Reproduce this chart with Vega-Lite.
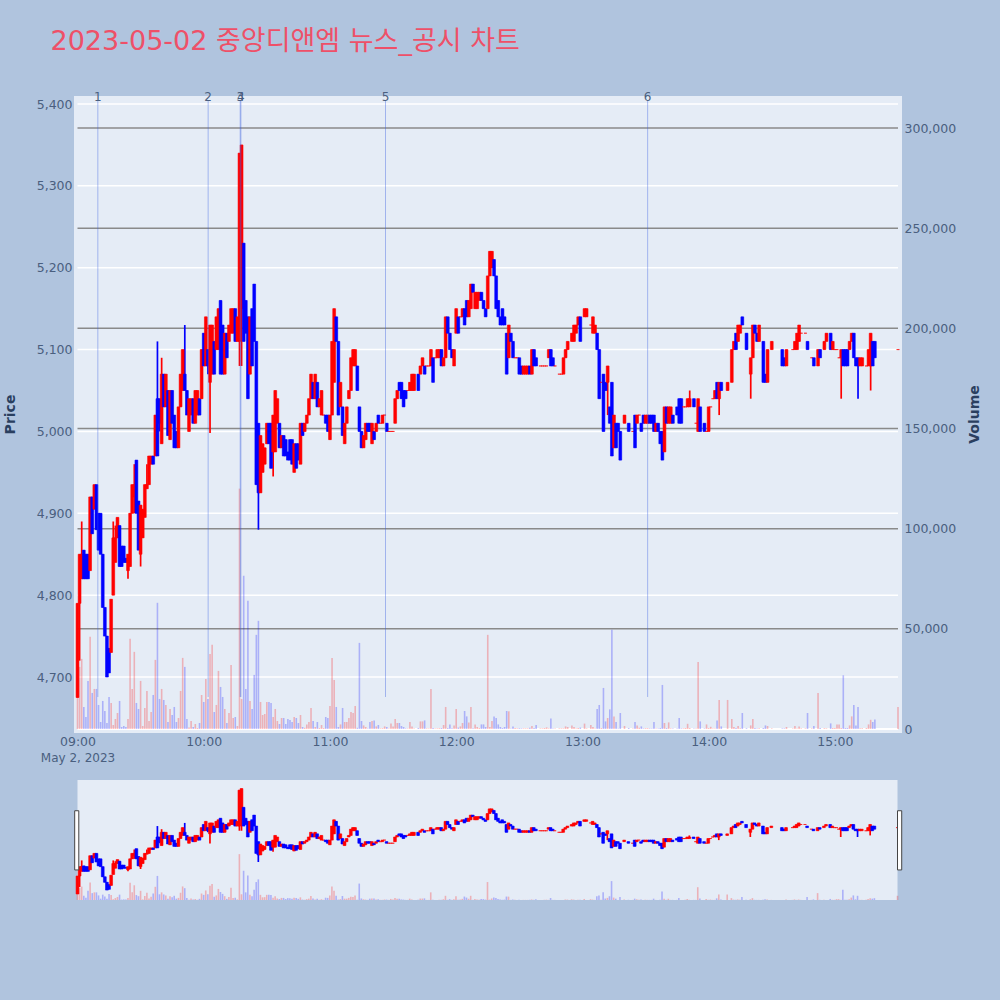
{
"$schema":"https://vega.github.io/schema/vega-lite/v6.json",
"background":"#b0c4de",
"padding":{"left":3,"right":19,"top":28,"bottom":100},
"title":{"text":"2023-05-02 중앙디앤엠 뉴스_공시 차트","anchor":"start","frame":"group","dx":-23.5,"offset":35,"fontSize":27,"fontWeight":"normal","color":"#ee5068","font":"DejaVu Sans, Noto Sans CJK KR"},
"config":{"font":"DejaVu Sans, Noto Sans CJK KR","view":{"stroke":null},"axis":{"labelColor":"#4a5f7f","titleColor":"#2a3f5f","labelFontSize":12.5,"grid":false,"domain":false,"ticks":false}},
"data":{"name":"bars","format":{"parse":{"t":"date:'%H:%M'"}}},
"datasets":{
"bars":[
{"t":"09:00","o":4675,"h":4790,"l":4675,"c":4790,"v":26000},
{"t":"09:01","o":4790,"h":4850,"l":4720,"c":4850,"v":31000},
{"t":"09:02","o":4820,"h":4890,"l":4820,"c":4850,"v":35000},
{"t":"09:03","o":4855,"h":4855,"l":4820,"c":4820,"v":11000},
{"t":"09:04","o":4850,"h":4850,"l":4820,"c":4820,"v":6000},
{"t":"09:05","o":4850,"h":4850,"l":4820,"c":4820,"v":24000},
{"t":"09:06","o":4830,"h":4920,"l":4830,"c":4920,"v":46000},
{"t":"09:07","o":4920,"h":4920,"l":4875,"c":4875,"v":18000},
{"t":"09:08","o":4905,"h":4935,"l":4905,"c":4935,"v":20000},
{"t":"09:09","o":4935,"h":4935,"l":4880,"c":4880,"v":20000},
{"t":"09:10","o":4900,"h":4900,"l":4855,"c":4855,"v":12000},
{"t":"09:11","o":4900,"h":4900,"l":4850,"c":4850,"v":3500},
{"t":"09:12","o":4850,"h":4850,"l":4785,"c":4785,"v":14000},
{"t":"09:13","o":4785,"h":4785,"l":4750,"c":4750,"v":9000},
{"t":"09:14","o":4750,"h":4750,"l":4700,"c":4700,"v":3000},
{"t":"09:15","o":4735,"h":4735,"l":4705,"c":4705,"v":16000},
{"t":"09:16","o":4730,"h":4795,"l":4730,"c":4795,"v":13000},
{"t":"09:17","o":4800,"h":4890,"l":4800,"c":4870,"v":2000},
{"t":"09:18","o":4840,"h":4885,"l":4840,"c":4870,"v":5000},
{"t":"09:19","o":4870,"h":4895,"l":4870,"c":4895,"v":8000},
{"t":"09:20","o":4885,"h":4885,"l":4835,"c":4835,"v":14000},
{"t":"09:21","o":4860,"h":4860,"l":4835,"c":4835,"v":1000},
{"t":"09:22","o":4860,"h":4860,"l":4840,"c":4840,"v":1500},
{"t":"09:23","o":4845,"h":4845,"l":4840,"c":4840,"v":1000},
{"t":"09:24","o":4830,"h":4850,"l":4820,"c":4850,"v":5000},
{"t":"09:25","o":4835,"h":4900,"l":4835,"c":4900,"v":45000},
{"t":"09:26","o":4900,"h":4935,"l":4900,"c":4935,"v":20000},
{"t":"09:27","o":4920,"h":4960,"l":4900,"c":4935,"v":38500},
{"t":"09:28","o":4965,"h":4965,"l":4900,"c":4900,"v":13000},
{"t":"09:29","o":4915,"h":4915,"l":4855,"c":4855,"v":10000},
{"t":"09:30","o":4850,"h":4910,"l":4835,"c":4910,"v":24000},
{"t":"09:31","o":4870,"h":4905,"l":4870,"c":4905,"v":1500},
{"t":"09:32","o":4895,"h":4935,"l":4895,"c":4935,"v":10500},
{"t":"09:33","o":4930,"h":4960,"l":4930,"c":4935,"v":19000},
{"t":"09:34","o":4935,"h":4970,"l":4935,"c":4970,"v":4000},
{"t":"09:35","o":4960,"h":4970,"l":4960,"c":4970,"v":8500},
{"t":"09:36","o":4970,"h":4970,"l":4960,"c":4960,"v":17000},
{"t":"09:37","o":4970,"h":5020,"l":4970,"c":5020,"v":34500},
{"t":"09:38","o":5040,"h":5110,"l":4970,"c":4970,"v":63000},
{"t":"09:39","o":5040,"h":5040,"l":5000,"c":5010,"v":15000},
{"t":"09:40","o":4985,"h":5090,"l":4985,"c":5070,"v":20000},
{"t":"09:41","o":5070,"h":5070,"l":5030,"c":5030,"v":14500},
{"t":"09:42","o":5030,"h":5070,"l":5030,"c":5070,"v":12000},
{"t":"09:43","o":5050,"h":5050,"l":4995,"c":4995,"v":3500},
{"t":"09:44","o":4990,"h":5050,"l":4990,"c":5050,"v":10000},
{"t":"09:45","o":5050,"h":5050,"l":5010,"c":5010,"v":7000},
{"t":"09:46","o":5020,"h":5020,"l":4980,"c":4980,"v":11000},
{"t":"09:47","o":5000,"h":5000,"l":4980,"c":4980,"v":3500},
{"t":"09:48","o":4980,"h":5030,"l":4980,"c":5030,"v":5500},
{"t":"09:49","o":5030,"h":5070,"l":5030,"c":5070,"v":19000},
{"t":"09:50","o":5050,"h":5100,"l":5050,"c":5100,"v":35500},
{"t":"09:51","o":5070,"h":5130,"l":5050,"c":5050,"v":31000},
{"t":"09:52","o":5050,"h":5050,"l":5020,"c":5020,"v":5000},
{"t":"09:53","o":5000,"h":5040,"l":5000,"c":5040,"v":700},
{"t":"09:54","o":5020,"h":5040,"l":5020,"c":5040,"v":4000},
{"t":"09:55","o":5040,"h":5040,"l":5010,"c":5010,"v":1000},
{"t":"09:56","o":5010,"h":5050,"l":5010,"c":5050,"v":2500},
{"t":"09:57","o":5020,"h":5050,"l":5020,"c":5050,"v":500},
{"t":"09:58","o":5040,"h":5040,"l":5020,"c":5020,"v":3000},
{"t":"09:59","o":5040,"h":5100,"l":5040,"c":5100,"v":17000},
{"t":"10:00","o":5120,"h":5120,"l":5080,"c":5080,"v":13500},
{"t":"10:01","o":5080,"h":5140,"l":5080,"c":5140,"v":25000},
{"t":"10:02","o":5100,"h":5100,"l":5070,"c":5080,"v":15000},
{"t":"10:03","o":5060,"h":5130,"l":4998,"c":5130,"v":37500},
{"t":"10:04","o":5070,"h":5130,"l":5070,"c":5130,"v":42000},
{"t":"10:05","o":5110,"h":5110,"l":5070,"c":5070,"v":8500},
{"t":"10:06","o":5100,"h":5140,"l":5100,"c":5140,"v":12000},
{"t":"10:07","o":5100,"h":5150,"l":5100,"c":5150,"v":29000},
{"t":"10:08","o":5160,"h":5160,"l":5070,"c":5070,"v":21000},
{"t":"10:09","o":5130,"h":5130,"l":5070,"c":5070,"v":16000},
{"t":"10:10","o":5070,"h":5120,"l":5070,"c":5120,"v":10000},
{"t":"10:11","o":5120,"h":5120,"l":5090,"c":5090,"v":3000},
{"t":"10:12","o":5110,"h":5130,"l":5110,"c":5130,"v":8000},
{"t":"10:13","o":5120,"h":5150,"l":5120,"c":5150,"v":32000},
{"t":"10:14","o":5120,"h":5150,"l":5120,"c":5150,"v":5500},
{"t":"10:15","o":5150,"h":5150,"l":5110,"c":5110,"v":6000},
{"t":"10:16","o":5110,"h":5140,"l":5110,"c":5140,"v":1500},
{"t":"10:17","o":5110,"h":5340,"l":5080,"c":5340,"v":120000},
{"t":"10:18","o":5150,"h":5350,"l":5080,"c":5350,"v":15000},
{"t":"10:19","o":5230,"h":5230,"l":5110,"c":5110,"v":76500},
{"t":"10:20","o":5160,"h":5160,"l":5120,"c":5120,"v":20000},
{"t":"10:21","o":5140,"h":5140,"l":5040,"c":5040,"v":64000},
{"t":"10:22","o":5070,"h":5140,"l":5070,"c":5140,"v":14000},
{"t":"10:23","o":5150,"h":5150,"l":5080,"c":5080,"v":10000},
{"t":"10:24","o":5180,"h":5180,"l":5110,"c":5110,"v":27000},
{"t":"10:25","o":5110,"h":5110,"l":4935,"c":4935,"v":47000},
{"t":"10:26","o":5010,"h":5010,"l":4880,"c":4925,"v":54000},
{"t":"10:27","o":4925,"h":4995,"l":4925,"c":4995,"v":13500},
{"t":"10:28","o":4950,"h":4985,"l":4950,"c":4985,"v":7000},
{"t":"10:29","o":4960,"h":4980,"l":4960,"c":4980,"v":7500},
{"t":"10:30","o":4985,"h":5010,"l":4985,"c":5010,"v":13500},
{"t":"10:31","o":5010,"h":5010,"l":4985,"c":4985,"v":13500},
{"t":"10:32","o":5010,"h":5010,"l":4955,"c":4955,"v":13000},
{"t":"10:33","o":4975,"h":5020,"l":4945,"c":5020,"v":6000},
{"t":"10:34","o":4975,"h":5050,"l":4975,"c":5050,"v":10000},
{"t":"10:35","o":5010,"h":5040,"l":5010,"c":5040,"v":4000},
{"t":"10:36","o":5010,"h":5010,"l":4980,"c":4980,"v":2500},
{"t":"10:37","o":4980,"h":4995,"l":4980,"c":4995,"v":5500},
{"t":"10:38","o":4995,"h":4995,"l":4970,"c":4970,"v":5500},
{"t":"10:39","o":4990,"h":4990,"l":4970,"c":4970,"v":2500},
{"t":"10:40","o":4975,"h":4975,"l":4965,"c":4965,"v":5000},
{"t":"10:41","o":4990,"h":4990,"l":4965,"c":4965,"v":4500},
{"t":"10:42","o":4990,"h":4990,"l":4960,"c":4960,"v":3500},
{"t":"10:43","o":4950,"h":4985,"l":4950,"c":4985,"v":6000},
{"t":"10:44","o":4985,"h":4985,"l":4955,"c":4955,"v":5500},
{"t":"10:45","o":4985,"h":4985,"l":4965,"c":4965,"v":3000},
{"t":"10:46","o":4960,"h":5010,"l":4960,"c":5010,"v":7000},
{"t":"10:47","o":5010,"h":5010,"l":4995,"c":4995,"v":1000},
{"t":"10:48","o":5000,"h":5010,"l":5000,"c":5010,"v":600},
{"t":"10:49","o":5010,"h":5020,"l":5010,"c":5020,"v":2300},
{"t":"10:50","o":5020,"h":5040,"l":5020,"c":5040,"v":3500},
{"t":"10:51","o":5040,"h":5070,"l":5040,"c":5070,"v":10500},
{"t":"10:52","o":5060,"h":5060,"l":5040,"c":5040,"v":4000},
{"t":"10:53","o":5040,"h":5070,"l":5040,"c":5070,"v":1000},
{"t":"10:54","o":5060,"h":5060,"l":5030,"c":5030,"v":3500},
{"t":"10:55","o":5030,"h":5040,"l":5030,"c":5040,"v":500},
{"t":"10:56","o":5020,"h":5050,"l":5020,"c":5050,"v":2000},
{"t":"10:57","o":5020,"h":5020,"l":5020,"c":5020,"v":500},
{"t":"10:58","o":5020,"h":5020,"l":5010,"c":5010,"v":6000},
{"t":"10:59","o":5020,"h":5020,"l":5000,"c":5000,"v":5500},
{"t":"11:00","o":4990,"h":5020,"l":4990,"c":5020,"v":11500},
{"t":"11:01","o":5020,"h":5110,"l":5020,"c":5110,"v":35500},
{"t":"11:02","o":5060,"h":5150,"l":5060,"c":5150,"v":24500},
{"t":"11:03","o":5140,"h":5140,"l":5110,"c":5110,"v":11000},
{"t":"11:04","o":5110,"h":5110,"l":5020,"c":5020,"v":1000},
{"t":"11:05","o":5030,"h":5060,"l":5030,"c":5060,"v":2300},
{"t":"11:06","o":5030,"h":5030,"l":4995,"c":4995,"v":10500},
{"t":"11:07","o":4985,"h":5010,"l":4985,"c":5010,"v":3500},
{"t":"11:08","o":5010,"h":5030,"l":5010,"c":5030,"v":3500},
{"t":"11:09","o":5040,"h":5050,"l":5040,"c":5050,"v":5500},
{"t":"11:10","o":5050,"h":5090,"l":5050,"c":5090,"v":8500},
{"t":"11:11","o":5080,"h":5100,"l":5080,"c":5100,"v":8000},
{"t":"11:12","o":5080,"h":5100,"l":5080,"c":5100,"v":11500},
{"t":"11:13","o":5080,"h":5080,"l":5050,"c":5050,"v":600},
{"t":"11:14","o":5030,"h":5030,"l":5000,"c":5000,"v":43000},
{"t":"11:15","o":5000,"h":5000,"l":4980,"c":4980,"v":4000},
{"t":"11:16","o":4980,"h":4995,"l":4980,"c":4995,"v":1800},
{"t":"11:17","o":4990,"h":5010,"l":4990,"c":5010,"v":1000},
{"t":"11:18","o":5010,"h":5010,"l":5000,"c":5000,"v":300},
{"t":"11:19","o":5010,"h":5010,"l":5000,"c":5000,"v":3500},
{"t":"11:20","o":4985,"h":5010,"l":4985,"c":5010,"v":4000},
{"t":"11:21","o":5000,"h":5000,"l":4990,"c":4990,"v":4200},
{"t":"11:22","o":5000,"h":5010,"l":5000,"c":5010,"v":1300},
{"t":"11:23","o":5020,"h":5020,"l":5010,"c":5010,"v":2000},
{"t":"11:24","o":5010,"h":5010,"l":5010,"c":5010,"v":300},
{"t":"11:25","o":5010,"h":5020,"l":5010,"c":5020,"v":400},
{"t":"11:26","o":5020,"h":5020,"l":5020,"c":5020,"v":1300},
{"t":"11:27","o":5010,"h":5010,"l":5000,"c":5000,"v":1000},
{"t":"11:28","o":5000,"h":5000,"l":5000,"c":5000,"v":300},
{"t":"11:29","o":5000,"h":5000,"l":5000,"c":5000,"v":2800},
{"t":"11:30","o":5000,"h":5000,"l":5000,"c":5000,"v":1300},
{"t":"11:31","o":5010,"h":5040,"l":5010,"c":5040,"v":5000},
{"t":"11:32","o":5040,"h":5050,"l":5040,"c":5050,"v":3000},
{"t":"11:33","o":5060,"h":5060,"l":5050,"c":5050,"v":3000},
{"t":"11:34","o":5060,"h":5060,"l":5040,"c":5040,"v":1500},
{"t":"11:35","o":5050,"h":5050,"l":5030,"c":5030,"v":1000},
{"t":"11:36","o":5050,"h":5050,"l":5040,"c":5040,"v":300},
{"t":"11:37","o":5050,"h":5050,"l":5050,"c":5050,"v":300},
{"t":"11:38","o":5050,"h":5060,"l":5050,"c":5060,"v":3500},
{"t":"11:39","o":5050,"h":5070,"l":5050,"c":5070,"v":1300},
{"t":"11:40","o":5050,"h":5070,"l":5050,"c":5070,"v":300},
{"t":"11:42","o":5070,"h":5070,"l":5050,"c":5050,"v":500},
{"t":"11:43","o":5070,"h":5080,"l":5070,"c":5080,"v":3800},
{"t":"11:44","o":5080,"h":5090,"l":5080,"c":5090,"v":3800},
{"t":"11:45","o":5080,"h":5080,"l":5070,"c":5070,"v":4300},
{"t":"11:46","o":5080,"h":5080,"l":5080,"c":5080,"v":300},
{"t":"11:47","o":5080,"h":5080,"l":5080,"c":5080,"v":300},
{"t":"11:48","o":5080,"h":5100,"l":5080,"c":5100,"v":20000},
{"t":"11:49","o":5090,"h":5090,"l":5060,"c":5060,"v":500},
{"t":"11:50","o":5090,"h":5090,"l":5090,"c":5090,"v":300},
{"t":"11:51","o":5090,"h":5100,"l":5090,"c":5100,"v":300},
{"t":"11:52","o":5090,"h":5100,"l":5090,"c":5100,"v":400},
{"t":"11:53","o":5100,"h":5100,"l":5080,"c":5080,"v":500},
{"t":"11:54","o":5080,"h":5090,"l":5080,"c":5090,"v":2000},
{"t":"11:55","o":5090,"h":5140,"l":5090,"c":5140,"v":11000},
{"t":"11:56","o":5140,"h":5140,"l":5120,"c":5120,"v":500},
{"t":"11:57","o":5120,"h":5120,"l":5100,"c":5100,"v":2300},
{"t":"11:58","o":5100,"h":5100,"l":5090,"c":5090,"v":400},
{"t":"11:59","o":5080,"h":5100,"l":5080,"c":5100,"v":1800},
{"t":"12:00","o":5120,"h":5150,"l":5120,"c":5150,"v":10000},
{"t":"12:01","o":5140,"h":5140,"l":5120,"c":5120,"v":700},
{"t":"12:02","o":5140,"h":5140,"l":5140,"c":5140,"v":1300},
{"t":"12:03","o":5140,"h":5150,"l":5140,"c":5150,"v":3000},
{"t":"12:04","o":5150,"h":5150,"l":5130,"c":5130,"v":9000},
{"t":"12:05","o":5160,"h":5160,"l":5140,"c":5140,"v":6300},
{"t":"12:06","o":5140,"h":5160,"l":5140,"c":5160,"v":3300},
{"t":"12:07","o":5150,"h":5180,"l":5150,"c":5180,"v":11000},
{"t":"12:08","o":5180,"h":5180,"l":5170,"c":5170,"v":400},
{"t":"12:09","o":5150,"h":5170,"l":5150,"c":5170,"v":2300},
{"t":"12:10","o":5150,"h":5170,"l":5150,"c":5170,"v":1000},
{"t":"12:11","o":5160,"h":5170,"l":5160,"c":5170,"v":500},
{"t":"12:12","o":5170,"h":5170,"l":5160,"c":5160,"v":2300},
{"t":"12:13","o":5160,"h":5160,"l":5150,"c":5150,"v":2300},
{"t":"12:14","o":5150,"h":5150,"l":5140,"c":5140,"v":1000},
{"t":"12:15","o":5150,"h":5190,"l":5150,"c":5190,"v":47000},
{"t":"12:16","o":5190,"h":5220,"l":5190,"c":5220,"v":1000},
{"t":"12:17","o":5200,"h":5220,"l":5200,"c":5220,"v":4000},
{"t":"12:18","o":5210,"h":5210,"l":5190,"c":5190,"v":6300},
{"t":"12:19","o":5190,"h":5190,"l":5150,"c":5150,"v":5500},
{"t":"12:20","o":5160,"h":5160,"l":5140,"c":5140,"v":2300},
{"t":"12:21","o":5140,"h":5140,"l":5130,"c":5130,"v":1000},
{"t":"12:22","o":5150,"h":5150,"l":5130,"c":5130,"v":500},
{"t":"12:23","o":5140,"h":5140,"l":5130,"c":5130,"v":1000},
{"t":"12:24","o":5120,"h":5120,"l":5070,"c":5070,"v":9000},
{"t":"12:25","o":5090,"h":5130,"l":5090,"c":5130,"v":8800},
{"t":"12:26","o":5120,"h":5120,"l":5110,"c":5110,"v":300},
{"t":"12:27","o":5110,"h":5110,"l":5090,"c":5090,"v":1300},
{"t":"12:28","o":5090,"h":5090,"l":5090,"c":5090,"v":500},
{"t":"12:29","o":5090,"h":5090,"l":5090,"c":5090,"v":300},
{"t":"12:30","o":5090,"h":5090,"l":5070,"c":5070,"v":400},
{"t":"12:31","o":5080,"h":5080,"l":5070,"c":5070,"v":300},
{"t":"12:32","o":5070,"h":5080,"l":5070,"c":5080,"v":300},
{"t":"12:33","o":5070,"h":5080,"l":5070,"c":5080,"v":300},
{"t":"12:34","o":5070,"h":5080,"l":5070,"c":5080,"v":300},
{"t":"12:35","o":5080,"h":5080,"l":5070,"c":5070,"v":600},
{"t":"12:36","o":5070,"h":5100,"l":5070,"c":5100,"v":1500},
{"t":"12:37","o":5100,"h":5100,"l":5080,"c":5080,"v":500},
{"t":"12:38","o":5090,"h":5090,"l":5080,"c":5080,"v":2000},
{"t":"12:40","o":5080,"h":5080,"l":5080,"c":5080,"v":300},
{"t":"12:41","o":5080,"h":5080,"l":5080,"c":5080,"v":300},
{"t":"12:42","o":5080,"h":5080,"l":5080,"c":5080,"v":500},
{"t":"12:43","o":5080,"h":5080,"l":5080,"c":5080,"v":800},
{"t":"12:44","o":5090,"h":5100,"l":5090,"c":5100,"v":300},
{"t":"12:45","o":5100,"h":5100,"l":5080,"c":5080,"v":5300},
{"t":"12:46","o":5090,"h":5090,"l":5080,"c":5080,"v":300},
{"t":"12:47","o":5080,"h":5080,"l":5080,"c":5080,"v":300},
{"t":"12:49","o":5070,"h":5070,"l":5070,"c":5070,"v":300},
{"t":"12:50","o":5070,"h":5070,"l":5070,"c":5070,"v":300},
{"t":"12:51","o":5070,"h":5090,"l":5070,"c":5090,"v":300},
{"t":"12:52","o":5090,"h":5100,"l":5090,"c":5100,"v":1300},
{"t":"12:53","o":5100,"h":5110,"l":5100,"c":5110,"v":1000},
{"t":"12:55","o":5110,"h":5120,"l":5110,"c":5120,"v":1800},
{"t":"12:56","o":5110,"h":5130,"l":5110,"c":5130,"v":1000},
{"t":"12:57","o":5120,"h":5130,"l":5120,"c":5130,"v":300},
{"t":"12:58","o":5130,"h":5140,"l":5130,"c":5140,"v":500},
{"t":"12:59","o":5140,"h":5140,"l":5110,"c":5110,"v":700},
{"t":"13:01","o":5140,"h":5150,"l":5140,"c":5150,"v":2700},
{"t":"13:02","o":5140,"h":5150,"l":5140,"c":5150,"v":300},
{"t":"13:04","o":5130,"h":5130,"l":5130,"c":5130,"v":2000},
{"t":"13:05","o":5120,"h":5140,"l":5120,"c":5140,"v":1000},
{"t":"13:06","o":5120,"h":5130,"l":5120,"c":5130,"v":300},
{"t":"13:07","o":5120,"h":5120,"l":5100,"c":5100,"v":10000},
{"t":"13:08","o":5100,"h":5100,"l":5040,"c":5040,"v":12000},
{"t":"13:09","o":5060,"h":5060,"l":5060,"c":5060,"v":500},
{"t":"13:10","o":5070,"h":5070,"l":5000,"c":5000,"v":20500},
{"t":"13:11","o":5060,"h":5060,"l":5050,"c":5050,"v":3800},
{"t":"13:12","o":5060,"h":5080,"l":5020,"c":5080,"v":5500},
{"t":"13:13","o":5030,"h":5030,"l":5010,"c":5010,"v":9800},
{"t":"13:14","o":5060,"h":5060,"l":4970,"c":4970,"v":49500},
{"t":"13:15","o":4980,"h":5020,"l":4980,"c":5020,"v":6300},
{"t":"13:16","o":5010,"h":5010,"l":4980,"c":4980,"v":3500},
{"t":"13:17","o":5010,"h":5010,"l":5000,"c":5000,"v":300},
{"t":"13:18","o":5000,"h":5000,"l":4965,"c":4965,"v":8000},
{"t":"13:20","o":5010,"h":5020,"l":5010,"c":5020,"v":1500},
{"t":"13:22","o":5010,"h":5010,"l":5000,"c":5000,"v":500},
{"t":"13:24","o":5000,"h":5000,"l":5000,"c":5000,"v":300},
{"t":"13:25","o":5020,"h":5020,"l":4980,"c":4980,"v":3500},
{"t":"13:26","o":5010,"h":5020,"l":5010,"c":5020,"v":1800},
{"t":"13:27","o":5020,"h":5020,"l":5020,"c":5020,"v":600},
{"t":"13:28","o":5010,"h":5010,"l":5000,"c":5000,"v":1300},
{"t":"13:29","o":5020,"h":5020,"l":5010,"c":5010,"v":300},
{"t":"13:30","o":5010,"h":5020,"l":5010,"c":5020,"v":400},
{"t":"13:31","o":5010,"h":5020,"l":5010,"c":5020,"v":400},
{"t":"13:32","o":5020,"h":5020,"l":5010,"c":5010,"v":300},
{"t":"13:33","o":5020,"h":5020,"l":5010,"c":5010,"v":300},
{"t":"13:34","o":5020,"h":5020,"l":5000,"c":5000,"v":3500},
{"t":"13:35","o":5000,"h":5010,"l":5000,"c":5010,"v":300},
{"t":"13:36","o":5010,"h":5010,"l":5000,"c":5000,"v":300},
{"t":"13:37","o":5000,"h":5000,"l":4985,"c":4985,"v":500},
{"t":"13:38","o":5000,"h":5000,"l":4965,"c":4965,"v":22000},
{"t":"13:39","o":4975,"h":5030,"l":4975,"c":5030,"v":3000},
{"t":"13:40","o":5030,"h":5030,"l":5010,"c":5010,"v":500},
{"t":"13:41","o":5010,"h":5030,"l":5010,"c":5030,"v":3300},
{"t":"13:42","o":5010,"h":5030,"l":5010,"c":5030,"v":300},
{"t":"13:43","o":5020,"h":5020,"l":5010,"c":5010,"v":300},
{"t":"13:45","o":5030,"h":5030,"l":5020,"c":5020,"v":300},
{"t":"13:46","o":5040,"h":5040,"l":5010,"c":5010,"v":5500},
{"t":"13:47","o":5040,"h":5040,"l":5010,"c":5010,"v":300},
{"t":"13:48","o":5030,"h":5030,"l":5030,"c":5030,"v":300},
{"t":"13:49","o":5030,"h":5030,"l":5030,"c":5030,"v":500},
{"t":"13:50","o":5030,"h":5040,"l":5030,"c":5040,"v":2600},
{"t":"13:51","o":5030,"h":5050,"l":5030,"c":5040,"v":500},
{"t":"13:53","o":5040,"h":5040,"l":5030,"c":5030,"v":300},
{"t":"13:54","o":5010,"h":5010,"l":5010,"c":5010,"v":300},
{"t":"13:55","o":5000,"h":5040,"l":5000,"c":5040,"v":33500},
{"t":"13:56","o":5030,"h":5030,"l":5000,"c":5000,"v":3800},
{"t":"13:58","o":5010,"h":5010,"l":5000,"c":5000,"v":300},
{"t":"13:59","o":5000,"h":5000,"l":5000,"c":5000,"v":2300},
{"t":"14:00","o":5000,"h":5030,"l":5000,"c":5030,"v":500},
{"t":"14:01","o":5030,"h":5030,"l":5030,"c":5030,"v":1100},
{"t":"14:02","o":5040,"h":5040,"l":5040,"c":5040,"v":300},
{"t":"14:03","o":5040,"h":5050,"l":5040,"c":5050,"v":300},
{"t":"14:04","o":5060,"h":5060,"l":5040,"c":5040,"v":4300},
{"t":"14:05","o":5040,"h":5060,"l":5020,"c":5060,"v":14500},
{"t":"14:06","o":5060,"h":5060,"l":5050,"c":5050,"v":1300},
{"t":"14:09","o":5050,"h":5060,"l":5050,"c":5060,"v":14500},
{"t":"14:11","o":5060,"h":5100,"l":5060,"c":5100,"v":5000},
{"t":"14:12","o":5100,"h":5110,"l":5100,"c":5110,"v":1000},
{"t":"14:13","o":5120,"h":5120,"l":5100,"c":5100,"v":500},
{"t":"14:14","o":5110,"h":5130,"l":5110,"c":5130,"v":1500},
{"t":"14:15","o":5120,"h":5130,"l":5120,"c":5130,"v":400},
{"t":"14:16","o":5140,"h":5140,"l":5130,"c":5130,"v":8000},
{"t":"14:18","o":5120,"h":5120,"l":5100,"c":5100,"v":400},
{"t":"14:20","o":5070,"h":5090,"l":5040,"c":5090,"v":1800},
{"t":"14:21","o":5090,"h":5130,"l":5090,"c":5130,"v":5000},
{"t":"14:22","o":5130,"h":5130,"l":5120,"c":5120,"v":500},
{"t":"14:23","o":5120,"h":5120,"l":5110,"c":5110,"v":300},
{"t":"14:24","o":5110,"h":5130,"l":5110,"c":5130,"v":400},
{"t":"14:26","o":5110,"h":5110,"l":5060,"c":5060,"v":500},
{"t":"14:27","o":5070,"h":5070,"l":5060,"c":5060,"v":1800},
{"t":"14:28","o":5060,"h":5100,"l":5060,"c":5100,"v":1500},
{"t":"14:30","o":5100,"h":5110,"l":5100,"c":5110,"v":300},
{"t":"14:35","o":5100,"h":5100,"l":5080,"c":5080,"v":300},
{"t":"14:36","o":5090,"h":5090,"l":5080,"c":5080,"v":300},
{"t":"14:37","o":5080,"h":5100,"l":5080,"c":5100,"v":1000},
{"t":"14:40","o":5100,"h":5100,"l":5100,"c":5100,"v":300},
{"t":"14:41","o":5100,"h":5110,"l":5100,"c":5110,"v":1500},
{"t":"14:42","o":5100,"h":5120,"l":5100,"c":5120,"v":300},
{"t":"14:43","o":5110,"h":5130,"l":5110,"c":5130,"v":1300},
{"t":"14:44","o":5120,"h":5120,"l":5120,"c":5120,"v":300},
{"t":"14:46","o":5120,"h":5120,"l":5120,"c":5120,"v":300},
{"t":"14:47","o":5110,"h":5110,"l":5100,"c":5100,"v":8000},
{"t":"14:49","o":5090,"h":5090,"l":5090,"c":5090,"v":300},
{"t":"14:50","o":5090,"h":5090,"l":5080,"c":5080,"v":1500},
{"t":"14:52","o":5080,"h":5100,"l":5080,"c":5100,"v":18000},
{"t":"14:53","o":5100,"h":5100,"l":5090,"c":5090,"v":500},
{"t":"14:55","o":5100,"h":5110,"l":5100,"c":5110,"v":400},
{"t":"14:56","o":5110,"h":5120,"l":5110,"c":5120,"v":300},
{"t":"14:58","o":5120,"h":5120,"l":5100,"c":5100,"v":2800},
{"t":"14:59","o":5100,"h":5110,"l":5100,"c":5110,"v":500},
{"t":"15:00","o":5100,"h":5100,"l":5100,"c":5100,"v":500},
{"t":"15:01","o":5100,"h":5100,"l":5100,"c":5100,"v":2300},
{"t":"15:02","o":5090,"h":5090,"l":5090,"c":5090,"v":2300},
{"t":"15:03","o":5090,"h":5100,"l":5040,"c":5100,"v":500},
{"t":"15:04","o":5100,"h":5100,"l":5080,"c":5080,"v":26800},
{"t":"15:05","o":5100,"h":5100,"l":5080,"c":5080,"v":500},
{"t":"15:06","o":5100,"h":5100,"l":5080,"c":5080,"v":500},
{"t":"15:07","o":5100,"h":5110,"l":5100,"c":5110,"v":1800},
{"t":"15:08","o":5110,"h":5120,"l":5110,"c":5120,"v":6300},
{"t":"15:09","o":5120,"h":5120,"l":5090,"c":5090,"v":12000},
{"t":"15:10","o":5090,"h":5090,"l":5080,"c":5080,"v":1700},
{"t":"15:11","o":5090,"h":5090,"l":5040,"c":5080,"v":11000},
{"t":"15:12","o":5080,"h":5090,"l":5080,"c":5090,"v":400},
{"t":"15:13","o":5080,"h":5090,"l":5080,"c":5090,"v":400},
{"t":"15:15","o":5080,"h":5080,"l":5080,"c":5080,"v":500},
{"t":"15:16","o":5080,"h":5100,"l":5080,"c":5100,"v":2300},
{"t":"15:17","o":5080,"h":5120,"l":5050,"c":5120,"v":4600},
{"t":"15:18","o":5110,"h":5110,"l":5080,"c":5080,"v":3500},
{"t":"15:19","o":5110,"h":5110,"l":5090,"c":5090,"v":4800},
{"t":"15:30","o":5100,"h":5100,"l":5100,"c":5100,"v":11000}
],
"prices":[{"p":4700,"a":"09:00","b":"15:30"},{"p":4800,"a":"09:00","b":"15:30"},{"p":4900,"a":"09:00","b":"15:30"},{"p":5000,"a":"09:00","b":"15:30"},{"p":5100,"a":"09:00","b":"15:30"},{"p":5200,"a":"09:00","b":"15:30"},{"p":5300,"a":"09:00","b":"15:30"},{"p":5400,"a":"09:00","b":"15:30"}],
"volumes":[{"q":0,"a":"1900-01-01T09:00:00","b":"1900-01-01T15:30:00"},{"q":50000,"a":"1900-01-01T09:00:00","b":"1900-01-01T15:30:00"},{"q":100000,"a":"1900-01-01T09:00:00","b":"1900-01-01T15:30:00"},{"q":150000,"a":"1900-01-01T09:00:00","b":"1900-01-01T15:30:00"},{"q":200000,"a":"1900-01-01T09:00:00","b":"1900-01-01T15:30:00"},{"q":250000,"a":"1900-01-01T09:00:00","b":"1900-01-01T15:30:00"},{"q":300000,"a":"1900-01-01T09:00:00","b":"1900-01-01T15:30:00"}],
"news":[{"t":"1900-01-01T09:09:40","n":"1","hi":5404.9,"lo":4675.6,"at":5408.5},{"t":"1900-01-01T10:02:06","n":"2","hi":5404.9,"lo":4675.6,"at":5408.5},{"t":"1900-01-01T10:17:20","n":"3","hi":5404.9,"lo":4675.6,"at":5408.5},{"t":"1900-01-01T10:17:40","n":"4","hi":5404.9,"lo":4675.6,"at":5408.5},{"t":"1900-01-01T11:26:24","n":"5","hi":5404.9,"lo":4675.6,"at":5408.5},{"t":"1900-01-01T13:31:00","n":"6","hi":5404.9,"lo":4675.6,"at":5408.5}],
"handles":[{"a":"08:58:40","b":"09:00:37","hi":5208,"lo":4829},{"a":"15:30:00","b":"15:32:00","hi":5208,"lo":4829}]
},
"spacing":17,
"vconcat":[
{
"width":828,"height":637,
"view":{"fill":"#e5ecf6","stroke":null},
"layer":[
{"data":{"name":"prices","format":{"parse":{"a":"date:'%H:%M'","b":"date:'%H:%M'"}}},"mark":{"type":"rule","color":"#ffffff","strokeWidth":1.5},
"encoding":{
"x":{"field":"a","type":"temporal",
"scale":{"domain":[{"year":1900,"month":1,"date":1,"hours":9},{"year":1900,"month":1,"date":1,"hours":15,"minutes":30}],"range":[3.5,824],"padding":0},
"axis":{"format":"%H:%M","values":[{"year":1900,"month":1,"date":1,"hours":9},{"year":1900,"month":1,"date":1,"hours":10},{"year":1900,"month":1,"date":1,"hours":11},{"year":1900,"month":1,"date":1,"hours":12},{"year":1900,"month":1,"date":1,"hours":13},{"year":1900,"month":1,"date":1,"hours":14},{"year":1900,"month":1,"date":1,"hours":15}],"labelFlush":false,"labelBound":false,"labelOverlap":false,"labelPadding":2,"title":"May 2, 2023","titleFontSize":12,"titleFontWeight":"normal","titleColor":"#4a5f7f","titleX":3.5,"titleY":24,"titleAlign":"center","titleBaseline":"middle"}},
"x2":{"field":"b"},
"y":{"field":"p","type":"quantitative","scale":{"domain":[4636.5,5404.9],"range":[633,4]},
"axis":{"orient":"left","values":[4700,4800,4900,5000,5100,5200,5300,5400],"format":",d","labelPadding":2,"title":"Price","titleFontSize":14,"titleFontWeight":"bold","titleX":-64,"titleY":318,"titleAlign":"center","titleBaseline":"middle","titleAngle":270}}}},
{"data":{"name":"volumes","format":{"parse":{"a":"date","b":"date"}}},"mark":{"type":"rule","color":"#8a8a8a","strokeWidth":1.5},
"transform":[{"filter":"datum.q>0"}],
"encoding":{
"x":{"field":"a","type":"temporal"},
"x2":{"field":"b"},
"y":{"field":"q","type":"quantitative","scale":{"domain":[0,314000],"range":[633,4]},
"axis":{"orient":"right","values":[0,50000,100000,150000,200000,250000,300000],"format":",d","labelPadding":2,"title":"Volume","titleFontSize":14,"titleFontWeight":"bold","titleX":72,"titleY":318,"titleAlign":"center","titleBaseline":"middle","titleAngle":270}}}},
{"data":{"name":"volumes","format":{"parse":{"a":"date","b":"date"}}},"mark":{"type":"rule","color":"#ffffff","strokeWidth":2},
"transform":[{"filter":"datum.q==0"}],
"encoding":{
"x":{"field":"a","type":"temporal"},
"x2":{"field":"b"},
"y":{"field":"q","type":"quantitative","scale":{"domain":[0,314000],"range":[633,4]},"axis":null}}},
{"mark":{"type":"rule","strokeWidth":1.7},
"encoding":{
"x":{"field":"t","type":"temporal"},
"y":{"field":"h","type":"quantitative","scale":{"domain":[4636.5,5404.9],"range":[633,4]},"axis":null},
"y2":{"field":"l"},
"color":{"condition":{"test":"datum.c>=datum.o","value":"#ff0000"},"value":"#0000ff"}}},
{"mark":{"type":"bar","size":2.8,"strokeWidth":0.6},
"encoding":{
"x":{"field":"t","type":"temporal"},
"y":{"field":"o","type":"quantitative","scale":{"domain":[4636.5,5404.9],"range":[633,4]},"axis":null},
"y2":{"field":"c"},
"color":{"condition":{"test":"datum.c>=datum.o","value":"#ff0000"},"value":"#0000ff"},
"stroke":{"condition":{"test":"datum.c>=datum.o","value":"#ff0000"},"value":"#0000ff"}}},
{"mark":{"type":"bar","size":1.6,"opacity":0.25},
"encoding":{
"x":{"field":"t","type":"temporal"},
"y":{"field":"v","type":"quantitative","stack":null,"scale":{"domain":[0,314000],"range":[633,4]},"axis":null},
"color":{"condition":{"test":"datum.c>=datum.o","value":"#ff0000"},"value":"#0000ff"}}},
{"data":{"name":"news","format":{"parse":{"t":"date"}}},"mark":{"type":"rule","color":"#3a5fe0","strokeWidth":1,"opacity":0.4},
"encoding":{
"x":{"field":"t","type":"temporal"},
"y":{"field":"hi","type":"quantitative","scale":{"domain":[4636.5,5404.9],"range":[633,4]},"axis":null},
"y2":{"field":"lo"}}},
{"data":{"name":"news","format":{"parse":{"t":"date"}}},"mark":{"type":"text","fontSize":12,"color":"#4a5f7f","baseline":"middle"},
"encoding":{
"x":{"field":"t","type":"temporal"},
"y":{"field":"at","type":"quantitative","scale":{"domain":[4636.5,5404.9],"range":[633,4]},"axis":null},
"text":{"field":"n"}}}
],
"resolve":{"scale":{"y":"independent"},"axis":{"y":"independent"}}
},
{
"width":828,"height":120,
"view":{"fill":null,"stroke":null},
"layer":[
{"data":{"name":"volumes","format":{"parse":{"a":"date","b":"date"}}},"mark":{"type":"rect","color":"#e5ecf6"},
"transform":[{"filter":"datum.q==0"}],
"encoding":{
"x":{"field":"a","type":"temporal","axis":null,
"scale":{"domain":[{"year":1900,"month":1,"date":1,"hours":9},{"year":1900,"month":1,"date":1,"hours":15,"minutes":30}],"range":[3.5,823.5],"padding":0}},
"x2":{"field":"b"}}},
{"mark":{"type":"rule","strokeWidth":1.7},
"encoding":{
"x":{"field":"t","type":"temporal"},
"y":{"field":"h","type":"quantitative","scale":{"domain":[4636.5,5404.9],"range":[120,0]},"axis":null},
"y2":{"field":"l"},
"color":{"condition":{"test":"datum.c>=datum.o","value":"#ff0000"},"value":"#0000ff"}}},
{"mark":{"type":"bar","size":2.8,"strokeWidth":0.6},
"encoding":{
"x":{"field":"t","type":"temporal"},
"y":{"field":"o","type":"quantitative","scale":{"domain":[4636.5,5404.9],"range":[120,0]},"axis":null},
"y2":{"field":"c"},
"color":{"condition":{"test":"datum.c>=datum.o","value":"#ff0000"},"value":"#0000ff"},
"stroke":{"condition":{"test":"datum.c>=datum.o","value":"#ff0000"},"value":"#0000ff"}}},
{"mark":{"type":"bar","size":1.6,"opacity":0.25},
"encoding":{
"x":{"field":"t","type":"temporal"},
"y":{"field":"v","type":"quantitative","stack":null,"scale":{"domain":[0,314000],"range":[120,0]},"axis":null},
"color":{"condition":{"test":"datum.c>=datum.o","value":"#ff0000"},"value":"#0000ff"}}},
{"data":{"name":"handles","format":{"parse":{"a":"date:'%H:%M:%S'","b":"date:'%H:%M:%S'"}}},"mark":{"type":"rect","fill":"#ffffff","stroke":"#444444","strokeWidth":1},
"encoding":{
"x":{"field":"a","type":"temporal"},
"x2":{"field":"b"},
"y":{"field":"hi","type":"quantitative","scale":{"domain":[4636.5,5404.9],"range":[120,0]},"axis":null},
"y2":{"field":"lo"}}}
],
"resolve":{"scale":{"y":"independent"},"axis":{"y":"independent"}}
}
]
}
